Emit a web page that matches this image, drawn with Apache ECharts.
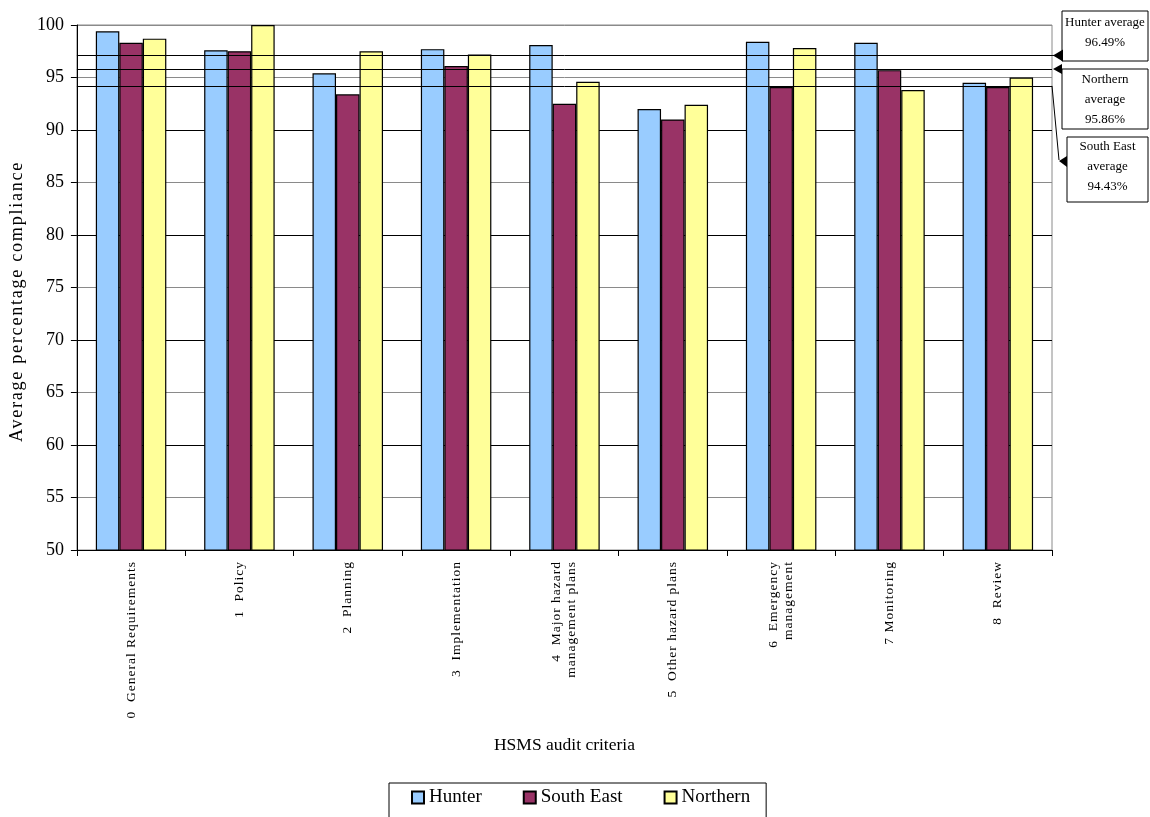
<!DOCTYPE html>
<html><head><meta charset="utf-8">
<script src="https://cdn.jsdelivr.net/npm/echarts@6/dist/echarts.min.js"></script>
<style>
html,body{margin:0;padding:0;background:#fff;}
#c{width:1150px;height:817px;}
</style></head><body><div id="c"></div>
<script>
(function(){
  const P = CanvasRenderingContext2D.prototype;
  const orig = P.fillText;
  P.fillText = function(t, x, y, m){
    const f = this.font || '';
    if ('letterSpacing' in this) {
      this.letterSpacing = /13\.5px/.test(f) ? '1px' : (/18\.2px/.test(f) ? '1.7px' : '0px');
    }
    return m === undefined ? orig.call(this, t, x, y) : orig.call(this, t, x, y, m);
  };
})();
const categories = ['0  General Requirements','1  Policy','2  Planning','3  Implementation','4  Major hazard\nmanagement plans','5  Other hazard plans','6  Emergency\nmanagement','7 Monitoring','8  Review'];
const hunter    = [99.4, 97.6, 95.4, 97.7, 98.1, 92.0, 98.4, 98.3, 94.5];
const southEast = [98.3, 97.5, 93.4, 96.1, 92.5, 91.0, 94.1, 95.7, 94.1];
const northern  = [98.7, 100.0, 97.5, 97.2, 94.6, 92.4, 97.8, 93.8, 95.0];
const seriesNames = ['Hunter','South East','Northern'];
const avgLineLevels = [97.1, 95.8, 94.2];
const avgLabels = ['Hunter average\n96.49%','Northern\naverage\n95.86%','South East\naverage\n94.43%'];
const yTicks = [50,55,60,65,70,75,80,85,90,95,100];

const colors = ['#99CCFF','#993366','#FFFF99'];
const gridColors = yTicks.map(v => (v === 100 || v % 10 !== 0) ? '#8a8a8a' : '#000');

const chart = echarts.init(document.getElementById('c'), null, {renderer:'canvas'});
const serif = '"Liberation Serif", "Times New Roman", serif';
const barBase = (name, data, color) => ({
  name, type:'bar', data, barWidth:23.5, barGap:'0%',
  itemStyle:{color, borderColor:'#000', borderWidth:1.2},
  emphasis:{disabled:true}
});
const s0 = barBase(seriesNames[0], hunter, colors[0]);
s0.markLine = {
  silent:true, symbol:'none', animation:false,
  label:{show:false},
  lineStyle:{color:'#000', width:1, type:'solid'},
  data: avgLineLevels.map(v => ({yAxis:v}))
};
chart.setOption({
  animation:false,
  grid:{left:75, right:98, top:25, bottom:267, show:true, borderColor:'#8a8a8a', borderWidth:1, backgroundColor:'#fff'},
  xAxis:{
    type:'category', data:categories,
    axisLine:{lineStyle:{color:'#000', width:1}},
    axisTick:{show:true, length:6, lineStyle:{color:'#000'}},
    axisLabel:{interval:0, rotate:90, margin:11, fontFamily:serif, fontSize:13.5, color:'#000', lineHeight:15},
    name:'HSMS audit criteria', nameLocation:'middle', nameGap:186,
    nameTextStyle:{fontFamily:serif, fontSize:17.5, color:'#000'}
  },
  yAxis:{
    type:'value', min:50, max:100, interval:5,
    axisLine:{show:true, lineStyle:{color:'#000'}},
    axisTick:{show:true, length:6, lineStyle:{color:'#000'}},
    axisLabel:{fontFamily:serif, fontSize:18, color:'#000', margin:13},
    splitLine:{show:true, lineStyle:{color:gridColors, width:1}},
    name:'Average percentage compliance', nameLocation:'middle', nameGap:48, nameRotate:90,
    nameTextStyle:{fontFamily:serif, fontSize:18.2, color:'#000', padding:[0,28,0,0]}
  },
  legend:{
    left:389, top:783, orient:'horizontal',
    padding:[5,16,12,22], itemGap:41, itemWidth:12, itemHeight:12, icon:'rect',
    borderColor:'#000', borderWidth:1,
    textStyle:{fontFamily:serif, fontSize:19, color:'#000'},
    data: seriesNames
  },
  series:[s0, barBase(seriesNames[1], southEast, colors[1]), barBase(seriesNames[2], northern, colors[2])]
});

const rect = chart.getModel().getComponent('grid',0).coordinateSystem.getRect();
const R = rect.x + rect.width;
const yPx = v => chart.convertToPixel({yAxisIndex:0}, v);
const yH = yPx(avgLineLevels[0]), yN = yPx(avgLineLevels[1]), yS = yPx(avgLineLevels[2]);
const txt = (x, y, t) => ({type:'text', z:100, style:{x, y, text:t, fill:'#000', font:'13px "Liberation Serif", serif', align:'center', verticalAlign:'middle', lineHeight:20}});
const box = (x, y, w, h) => ({type:'rect', z:99, shape:{x, y, width:w, height:h}, style:{fill:'#fff', stroke:'#000', lineWidth:1}});
chart.setOption({
  graphic:[
    {type:'line', z:98, shape:{x1:R, y1:yH, x2:R+10, y2:yH}, style:{stroke:'#000', lineWidth:1}},
    {type:'polygon', z:101, shape:{points:[[R+1,yH],[R+11,yH-6],[R+11,yH+6]]}, style:{fill:'#000'}},
    {type:'polygon', z:101, shape:{points:[[R+1,yN],[R+10,yN-5],[R+10,yN+5]]}, style:{fill:'#000'}},
    {type:'polyline', z:98, shape:{points:[[R,yS],[R+7,160]]}, style:{stroke:'#000', lineWidth:1, fill:null}},
    {type:'polygon', z:101, shape:{points:[[R+7,161],[R+15,156],[R+15,167]]}, style:{fill:'#000'}},
    box(R+10, 11, 86, 50), txt(R+53, 33, avgLabels[0]),
    box(R+10, 69, 86, 60), txt(R+53, 100, avgLabels[1]),
    box(R+15, 137, 81, 65), txt(R+55.5, 167, avgLabels[2])
  ]
});
</script></body></html>
